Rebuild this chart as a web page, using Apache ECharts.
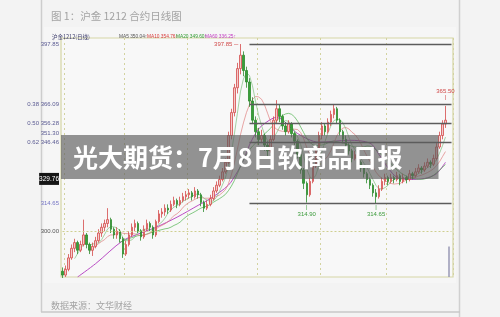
<!DOCTYPE html>
<html>
<head>
<meta charset="utf-8">
<script src="https://cdn.jsdelivr.net/npm/echarts@6/dist/echarts.min.js"></script>
<style>
html,body{margin:0;padding:0;background:#f3f3f3;}
#chart{width:500px;height:317px;}
</style>
</head>
<body>
<div id="chart"></div>
<script>
// ---- data ----
// candles: [open, close, low, high]
const ohlc = [
[279,277,275.5,281],[277,280,276,282],[280,286,279,288],[286,291,285,293],[291,294,289,296],
[294,290,288,295],[290,293,289,295],[293,298,292,306],[298,293,291,299],[293,290,288,294],
[290,292,287,294],[292,295,291,297],[295,299,294,301],[299,302,297,304],[302,304,300,306],
[304,306,302,312],[306,301,299,307],[301,298,296,302],[298,300,296,302],[300,296,294,301],
[296,288,286,297],[288,293,287,295],[293,298,292,300],[298,302,297,304],[302,304,300,306],
[304,300,299,305],[300,297,295,301],[297,301,296,303],[301,304,300,306],[304,302,300,305],
[302,298,296,303],[298,305,297,306],[305,309,304,311],[309,310,307,312],[310,312,308,314],
[312,311,309,314],[311,314,310,316],[314,316,313,318],[316,314,312,317],[314,316,313,318],
[316,318,315,320],[318,319,316,321],[319,320,317,322],[320,318,316,321],[318,321,317,323],
[321,319,317,322],[319,315,313,320],[315,312,310,316],[312,314,311,316],[314,317,313,319],
[317,321,316,323],[321,324,320,326],[324,327,323,329],[327,331,326,333],[331,336,330,338],
[336,350,335,352],[350,362,348,364],[362,375,360,377],[375,385,372,388],[385,392,382,397.85],
[392,384,381,394],[384,378,375,386],[378,368,365,380],[368,358,356,370],[358,352,349,360],
[352,348,345,354],[348,350,346,353],[350,345,342,351],[345,342,339,347],[342,348,341,350],
[348,358,347,360],[358,364,356,368.5],[364,360,357,366],[360,355,353,361],[355,352,350,357],
[352,356,351,358],[356,351,349,357],[351,347,345,352],[347,340,338,348],[340,332,330,341],
[332,325,322,333],[325,319,314.9,326],[319,326,318,328],[326,334,325,336],[334,342,333,344],
[342,350,341,352],[350,355,348,357],[355,352,350,356],[352,357,351,359],[357,361,355,363],
[361,364,359,366],[364,358,356,365],[358,352,350,359],[352,348,346,353],[348,345,343,350],
[345,342,340,346],[342,338,336,343],[338,340,337,342],[340,336,334,341],[336,333,331,337],
[333,330,328,334],[330,327,325,331],[327,324,322,328],[324,320,318,325],[320,318,314.65,322],
[318,322,317,324],[322,326,321,328],[326,328,324,330],[328,326,324,329],[326,328,325,330],
[328,327,325,329],[327,329,326,331],[329,326,324,330],[326,328,325,330],[328,327,325,329],
[327,330,326,332],[330,329,327,331],[329,331,328,333],[331,333,330,335],[333,332,330,334],
[332,334,331,336],[334,336,333,338],[336,335,333,337],[335,338,334,340],[338,344,337,346],
[344,350,343,352],[350,356,348,358],[356,358,354,365.5]
];
const slotCount = 130;
// purple long MA line: [candle index, value]
const maLongIdx = [5, 11, 20, 26, 31, 38, 45, 49, 55, 58, 60, 62, 64, 66, 71, 78, 85, 95, 102, 105, 108, 111, 115, 120, 124, 127];
const maLongVal = [276, 283, 295, 299, 302, 307.3, 313.5, 317, 324, 331, 337, 345, 351, 355, 359.5, 351, 346.5, 347.5, 346, 340, 333, 328, 327, 327.5, 330, 336];
// level lines
const fibLevels = [397.85, 366.09, 356.28, 346.46, 314.65];
const fibStart = 62;
const refLevel = 300;
// y axis labels
const yLabelValues = [397.85, 366.09, 356.28, 351.30, 346.46, 327.3, 314.65, 300];
const yLabelTexts = ['397.85', '0.38 366.09', '0.50 356.28', '351.30', '0.62 346.46', '329.76', '314.65', '300.00'];
// month separators (candle index)
const monthStarts = [1, 21, 42, 65, 86, 108];
// marked extremes
const peakIdx = 59, peakText = '397.85';
const lowIdx = [81, 104], lowTexts = ['314.90', '314.65'];
const lastIdx = 127, lastText = '365.50';
const maLegend = [
  {text: 'MA5 350.04↑', color: '#555555', x: 114},
  {text: 'MA10 354.76↑', color: '#d83a3a', x: 142},
  {text: 'MA20 349.60↑', color: '#2f9a2f', x: 171},
  {text: 'MA60 336.25↑', color: '#c23ac2', x: 200}
];

// ---- build ----
const days = Array.from({length: slotCount}, (_, i) => 'D' + (i + 1));
const closes = ohlc.map(r => r[1]);
function movingAverage(n) {
  return closes.map((_, i) => {
    if (i < n - 1) return '-';
    let s = 0;
    for (let k = i - n + 1; k <= i; k++) s += closes[k];
    return +(s / n).toFixed(2);
  });
}

const chart = echarts.init(document.getElementById('chart'), null, {renderer: 'canvas'});

const titles = [
  {text: '图 1：沪金 1212 合约日线图', left: 46, top: 6,
   textStyle: {fontSize: 10.5, fontWeight: 'normal', color: '#a3a3a3', fontFamily: 'Noto Sans CJK SC'}},
  {text: '数据来源：文华财经', left: 46, top: 296,
   textStyle: {fontSize: 9, fontWeight: 'normal', color: '#a3a3a3', fontFamily: 'Noto Sans CJK SC'}},
  {text: '沪金1212(日线)', left: 47, top: 29,
   textStyle: {fontSize: 5.5, fontWeight: 'normal', color: '#3a3a6a', fontFamily: 'Noto Sans CJK SC'}}
].concat(maLegend.map(m => ({
  text: m.text, left: m.x, top: 29.5,
  textStyle: {fontSize: 4.8, fontWeight: 'normal', color: m.color, fontFamily: 'Liberation Sans Narrow, Liberation Sans'}
}))).concat([
  {text: '光大期货：7月8日软商品日报', left: 61, top: 135,
   backgroundColor: 'rgba(92,92,92,0.66)', padding: [10, 36, 9, 12], z: 20,
   textStyle: {fontSize: 25, lineHeight: 25, fontWeight: 'bold', color: '#ffffff', fontFamily: 'Noto Sans CJK SC'}}
]);

const option = {
  animation: false,
  backgroundColor: '#f3f3f3',
  title: titles,
  graphic: [
    {type: 'rect', z: -10, shape: {x: 44, y: 27, width: 412, height: 256}, style: {fill: '#f6f6f6'}, silent: true},
    {type: 'line', shape: {x1: 41.5, y1: 0, x2: 41.5, y2: 312}, style: {stroke: '#cdcdcd', lineWidth: 1.5}},
    {type: 'line', shape: {x1: 459.5, y1: 0, x2: 459.5, y2: 317}, style: {stroke: '#d0d0d0', lineWidth: 1.5}},
    {type: 'line', shape: {x1: 41, y1: 312, x2: 460, y2: 312}, style: {stroke: '#c8c8c8', lineWidth: 1.5}}
  ],
  grid: {left: 61, right: 47, top: 38, bottom: 40, show: true, borderColor: '#d6d6a6', borderWidth: 1.2, backgroundColor: '#f8f8f8'},
  xAxis: {
    type: 'category', data: days, boundaryGap: true,
    axisLine: {show: false}, axisTick: {show: false}, axisLabel: {show: false},
    splitLine: {show: true, interval: (idx) => monthStarts.indexOf(idx) >= 0,
      lineStyle: {color: '#d3d3a0', type: [2, 3], width: 1}}
  },
  yAxis: {
    type: 'value', min: 276, max: 401, scale: true,
    axisLine: {show: false}, axisTick: {show: false}, splitLine: {show: false},
    axisLabel: {
      customValues: yLabelValues, fontSize: 6, color: '#5a5a92', margin: 2,
      fontFamily: 'Liberation Sans',
      formatter: (v) => {
        const k = yLabelValues.findIndex(x => Math.abs(x - v) < 0.01);
        const t = k >= 0 ? yLabelTexts[k] : '';
        if (t === '329.76') return '{box|' + t + '}';
        if (t === '314.65') return '{blue|' + t + '}';
        if (t === '300.00') return '{dark|' + t + '}';
        return t;
      },
      rich: {
        box: {backgroundColor: '#151515', color: '#ffffff', padding: [3, 0, 2, 0], fontSize: 6.5, fontFamily: 'Liberation Sans'},
        blue: {color: '#7474c4', fontSize: 6, fontFamily: 'Liberation Sans'},
        dark: {color: '#555555', fontSize: 6, fontFamily: 'Liberation Sans'}
      }
    }
  },
  series: [
    {
      type: 'line', name: 'MA60', data: maLongIdx.map((i, k) => [days[i], maLongVal[k]]),
      symbol: 'none', smooth: 0.3, lineStyle: {color: '#b94cc4', width: 1}, z: 1
    },
    {type: 'line', name: 'MA20', data: movingAverage(20), symbol: 'none', lineStyle: {color: '#4fb24f', width: 0.7}, z: 1},
    {type: 'line', name: 'MA10', data: movingAverage(10), symbol: 'none', lineStyle: {color: '#e08080', width: 0.7}, z: 1},
    {type: 'line', name: 'MA5', data: movingAverage(5), symbol: 'none', lineStyle: {color: '#7fbf7f', width: 0.7}, z: 1},
    {
      type: 'candlestick', name: 'K', data: ohlc, barWidth: 2, z: 3,
      itemStyle: {color: '#f3caca', borderColor: '#d44a4a', color0: '#3a9e3a', borderColor0: '#2c8a2c', borderWidth: 0.8},
      markLine: {
        silent: true, symbol: 'none', animation: false,
        label: {show: false},
        data: fibLevels.map(v => [
          {coord: [days[fibStart], v], lineStyle: {color: '#5c5c5c', width: 1.3, type: 'solid'}},
          {coord: [days[slotCount - 1], v]}
        ]).concat([
          [{coord: [days[0], refLevel], lineStyle: {color: '#cfcf90', width: 1, type: [2, 2]}}, {coord: [days[slotCount - 1], refLevel]}],
          [{coord: [days[128], 276], lineStyle: {color: '#9a9ab6', width: 1.5, type: 'solid'}}, {coord: [days[128], 292]}]
        ])
      },
      markPoint: {
        symbol: 'rect', symbolSize: [0.1, 0.1], animation: false, silent: true,
        data: [
          {coord: [days[peakIdx], ohlc[peakIdx][3]], label: {show: true, position: 'left', distance: 2, formatter: peakText + ' ─', color: '#d04848', fontSize: 6, fontFamily: 'Liberation Sans'}},
          {coord: [days[lastIdx], ohlc[lastIdx][3]], label: {show: true, position: 'top', distance: 5, formatter: lastText + '\n|', color: '#d04848', fontSize: 6, lineHeight: 6, fontFamily: 'Liberation Sans'}}
        ].concat(lowIdx.map((i, k) => ({
          coord: [days[i], ohlc[i][2]],
          label: {show: true, position: 'bottom', distance: 1, formatter: '|\n' + lowTexts[k], color: '#3a9a3a', fontSize: 6, lineHeight: 7, fontFamily: 'Liberation Sans'}
        })))
      }
    }
  ]
};
chart.setOption(option);
</script>
</body>
</html>
